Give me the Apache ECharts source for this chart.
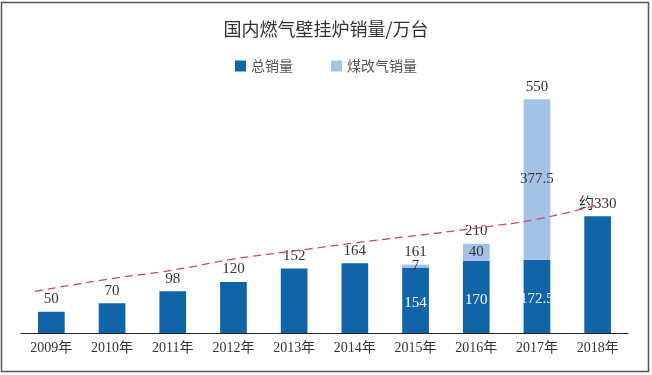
<!DOCTYPE html>
<html>
<head>
<meta charset="utf-8">
<script src="https://cdn.jsdelivr.net/npm/echarts@6/dist/echarts.min.js"></script>
<style>
html, body { margin: 0; padding: 0; background: #fff; }
#chart { width: 652px; height: 375px; }
</style>
</head>
<body>
<div id="chart"></div>
<script>
var years = ['2009年', '2010年', '2011年', '2012年', '2013年', '2014年', '2015年', '2016年', '2017年', '2018年'];
// dark part (总销量 / 非煤改气部分)
var totalSales = [50, 70, 98, 120, 152, 164, 154, 170, 172.5, 275];
var totalText = ['50', '70', '98', '120', '152', '164', '154', '170', '172.5', '约330'];
// light part (煤改气销量)
var coalGas = ['-', '-', '-', '-', '-', '-', 7, 40, 377.5, '-'];
// sums shown above stacked bars
var stackSums = ['-', '-', '-', '-', '-', '-', 161, 210, 550, '-'];
// dashed trend line, [x position in categories, value]
var trend = [[0.23, 98], [1.5, 128], [2.5, 148], [3.5, 174], [4.5, 193], [5.5, 212], [6.5, 229], [7.5, 247], [8.5, 268], [9.5, 301]];

var serif = 'Liberation Serif, Noto Sans CJK SC, serif';
var sans = 'Noto Sans CJK SC, sans-serif';
var chart = echarts.init(document.getElementById('chart'));

var darkData = totalSales.map(function (v, i) {
    var inside = coalGas[i] !== '-';
    return {
        value: v,
        label: inside
            ? { position: 'inside', color: '#fff', offset: [0, 3] }
            : { position: 'top', color: '#333', distance: 5 }
    };
});

chart.setOption({
    animation: false,
    title: {
        text: '国内燃气壁挂炉销量/万台',
        left: 'center',
        top: 15,
        textStyle: { fontFamily: sans, fontSize: 18, fontWeight: 'normal', color: '#333' }
    },
    legend: {
        data: ['总销量', '煤改气销量'],
        icon: 'rect',
        top: 54,
        left: 'center',
        itemWidth: 11,
        itemHeight: 11,
        itemGap: 38,
        textStyle: { fontFamily: sans, fontSize: 14, color: '#555' }
    },
    graphic: [{
        type: 'rect',
        shape: { x: 1.5, y: 2.5, width: 647, height: 369 },
        style: { fill: 'none', stroke: '#555', lineWidth: 1.5 },
        silent: true
    }],
    grid: { left: 21, right: 24, top: 78, bottom: 42 },
    xAxis: [{
        type: 'category',
        data: years,
        axisLine: { lineStyle: { color: '#222', width: 1 } },
        axisTick: { inside: true, length: 4, lineStyle: { color: '#222' } },
        axisLabel: { fontFamily: serif, fontSize: 14, color: '#333', margin: 8 }
    }, {
        type: 'value',
        min: 0,
        max: 10,
        show: false
    }],
    yAxis: {
        type: 'value',
        min: 0,
        max: 600,
        show: false
    },
    series: [{
        name: '总销量',
        type: 'bar',
        stack: 'a',
        barWidth: '44%',
        itemStyle: { color: '#1164a8' },
        label: {
            show: true,
            fontFamily: serif,
            fontSize: 15,
            formatter: function (p) { return totalText[p.dataIndex]; }
        },
        data: darkData
    }, {
        name: '煤改气销量',
        type: 'bar',
        stack: 'a',
        itemStyle: { color: '#a3c3e6' },
        label: {
            show: true,
            position: 'inside',
            fontFamily: serif,
            fontSize: 15,
            color: '#333'
        },
        data: coalGas
    }, {
        type: 'scatter',
        symbolSize: 0,
        itemStyle: { opacity: 1 },
        label: {
            show: true,
            position: 'top',
            distance: 5,
            fontFamily: serif,
            fontSize: 15,
            color: '#333',
            formatter: function (p) { return p.value; }
        },
        data: stackSums
    }, {
        type: 'line',
        xAxisIndex: 1,
        smooth: true,
        symbol: 'none',
        z: 5,
        lineStyle: { color: '#d04a5a', width: 1.3, type: [8, 5] },
        data: trend
    }]
});
</script>
</body>
</html>
